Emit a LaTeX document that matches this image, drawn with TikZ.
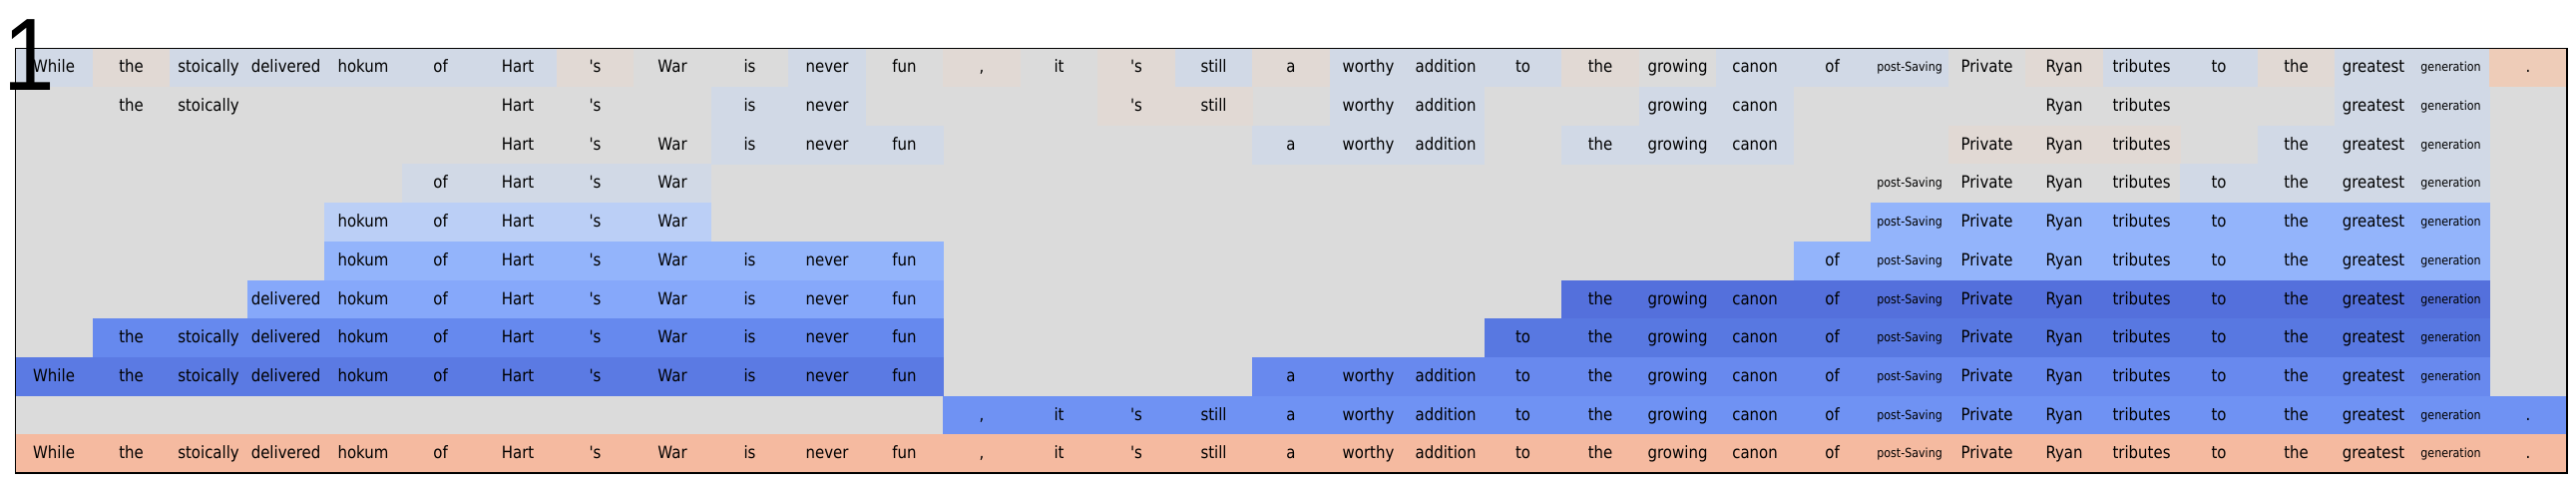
\documentclass[tikz,border=0pt]{standalone}
\usepackage{fontspec}
\newfontfamily\cellfont{DejaVu Sans}[FakeStretch=0.88]
\newfontfamily\numfont{Liberation Sans}[FakeStretch=0.9]
\definecolor{G}{RGB}{219,219,219}
\definecolor{LB}{RGB}{209,217,230}
\definecolor{LP}{RGB}{225,217,212}
\definecolor{PD}{RGB}{238,204,184}
\definecolor{CFa}{RGB}{187,207,246}
\definecolor{CFv}{RGB}{147,180,251}
\definecolor{CSa}{RGB}{134,168,250}
\definecolor{CSb}{RGB}{84,112,220}
\definecolor{CVa}{RGB}{102,137,238}
\definecolor{CVb}{RGB}{88,120,225}
\definecolor{CEa}{RGB}{91,122,227}
\definecolor{CEb}{RGB}{104,137,238}
\definecolor{CN}{RGB}{111,146,243}
\definecolor{CT}{RGB}{245,186,160}
\newcommand\smallps{\raisebox{1pt}{\fontsize{12.6}{14}\selectfont post-Saving}}
\newcommand\smallgen{\raisebox{1pt}{\fontsize{12.6}{14}\selectfont generation}}
\newcommand\tok[1]{\ifcase#1 While\or the\or stoically\or delivered\or hokum\or of\or Hart\or 's\or War\or is\or never\or fun\or ,\or it\or 's\or still\or a\or worthy\or addition\or to\or the\or growing\or canon\or of\or \smallps\or Private\or Ryan\or tributes\or to\or the\or greatest\or \smallgen\or .\fi}
\newcommand\cell[3]{%
  \fill[#3] ({15.3+77.5*#2},{48.3+38.7*#1}) rectangle ++(77.8,39.0);
  \node[tokstyle] (t#1-#2) at ({15.3+77.5*(#2+0.5)},{48.3+38.7*(#1+0.5)+5.2}) {\tok{#2}};
}
\tikzset{
  tokstyle/.style={anchor=base, inner sep=0pt, text=black, font=\cellfont\fontsize{17}{20}\selectfont},
  numstyle/.style={anchor=base east, inner sep=0pt, text=black, font=\numfont\fontsize{103}{110}\selectfont},
  framestyle/.style={draw=black, line width=1.4pt}
}
\begin{document}
\begin{tikzpicture}[x=1pt,y=-1pt]
\useasboundingbox (0,0) rectangle (2582,489);
\fill[white] (0,0) rectangle (2582,489);
\fill[G] (15.3,48.3) rectangle (2572.8,474);
% row 0
\foreach \c/\k in {0/LB,1/LP,2/LB,3/LB,4/LB,5/LB,6/LB,7/LP,8/G,9/G,10/LB,11/G,12/LP,13/G,14/LP,15/LB,16/LP,17/LB,18/LB,19/LB,20/LP,21/G,22/LB,23/LB,24/LB,25/G,26/LP,27/LB,28/LB,29/LP,30/LB,31/LB,32/PD}{\cell{0}{\c}{\k}}
% row 1
\foreach \c/\k in {1/G,2/G,6/G,7/G,9/LB,10/LB,14/LP,15/LP,17/LB,18/LB,21/LB,22/LB,26/G,27/G,30/LB,31/LB}{\cell{1}{\c}{\k}}
% row 2
\foreach \c/\k in {6/G,7/G,8/G,9/LB,10/LB,11/LB,16/LB,17/LB,18/LB,20/LB,21/LB,22/LB,25/LP,26/LP,27/LP,29/LB,30/LB,31/LB}{\cell{2}{\c}{\k}}
% row 3
\foreach \c/\k in {5/LB,6/LB,7/LB,8/LB,24/G,25/G,26/G,27/G,28/LB,29/LB,30/LB,31/LB}{\cell{3}{\c}{\k}}
% row 4
\foreach \c in {4,...,8}{\cell{4}{\c}{CFa}}
\foreach \c in {24,...,31}{\cell{4}{\c}{CFv}}
% row 5
\foreach \c in {4,...,11}{\cell{5}{\c}{CFv}}
\foreach \c in {23,...,31}{\cell{5}{\c}{CFv}}
% row 6
\foreach \c in {3,...,11}{\cell{6}{\c}{CSa}}
\foreach \c in {20,...,31}{\cell{6}{\c}{CSb}}
% row 7
\foreach \c in {1,...,11}{\cell{7}{\c}{CVa}}
\foreach \c in {19,...,31}{\cell{7}{\c}{CVb}}
% row 8
\foreach \c in {0,...,11}{\cell{8}{\c}{CEa}}
\foreach \c in {16,...,31}{\cell{8}{\c}{CEb}}
% row 9
\foreach \c in {12,...,32}{\cell{9}{\c}{CN}}
% row 10
\foreach \c in {0,...,32}{\cell{10}{\c}{CT}}
\draw[framestyle] (15.3,48.3) rectangle (2572.8,474);
\node[numstyle] (num) at (55,90.7) {1};
\end{tikzpicture}
\end{document}
